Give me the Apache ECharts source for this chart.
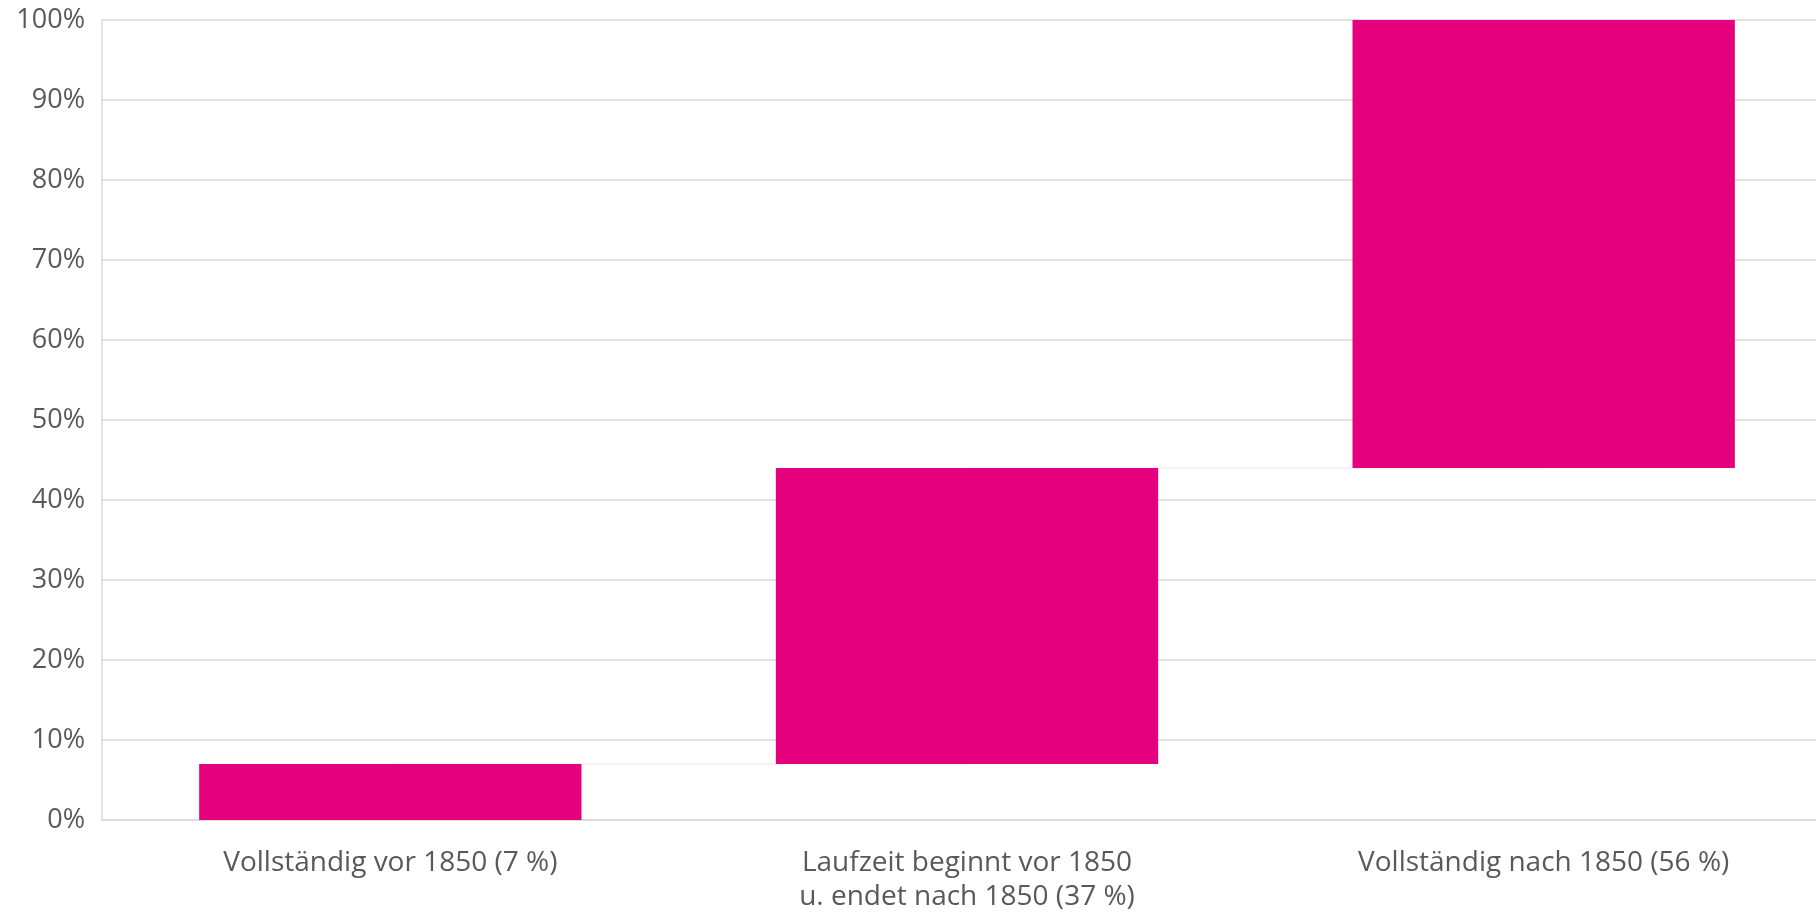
<!DOCTYPE html>
<html>
<head>
<meta charset="utf-8">
<script src="https://cdn.jsdelivr.net/npm/echarts@6/dist/echarts.min.js"></script>
<style>
html,body{margin:0;padding:0;background:#fff;overflow:hidden;}
#chart{width:1816px;height:916px;}
</style>
</head>
<body>
<div id="chart"></div>
<script>
const categories = [
  'Vollständig vor 1850 (7 %)',
  'Laufzeit beginnt vor 1850\nu. endet nach 1850 (37 %)',
  'Vollständig nach 1850 (56 %)'
];
const shares = [7, 37, 56];
const yTicks = [0, 10, 20, 30, 40, 50, 60, 70, 80, 90, 100];

const bases = [];
let acc = 0;
for (const v of shares) { bases.push(acc); acc += v; }

const connectors = [];
for (let i = 0; i < shares.length - 1; i++) {
  const lvl = bases[i] + shares[i];
  connectors.push([{ coord: [i, lvl] }, { coord: [i + 1, lvl] }]);
}

const chart = echarts.init(document.getElementById('chart'), null, { renderer: 'canvas' });
chart.setOption({
  backgroundColor: '#ffffff',
  animation: false,
  textStyle: { fontFamily: 'Open Sans' },
  grid: { left: 102, right: -16, top: 20, bottom: 96, containLabel: false, outerBoundsMode: 'none' },
  xAxis: {
    type: 'category',
    data: categories,
    axisLine: { show: true, lineStyle: { color: '#d9d9d9', width: 1.5 } },
    axisTick: { show: false },
    axisLabel: { color: '#595959', fontSize: 28, margin: 26, lineHeight: 34, fontFamily: 'Open Sans', interval: 0 }
  },
  yAxis: {
    type: 'value',
    min: yTicks[0],
    max: yTicks[yTicks.length - 1],
    interval: 10,
    axisLine: { show: true, lineStyle: { color: '#d9d9d9', width: 1.5 } },
    axisTick: { show: false },
    splitLine: { lineStyle: { color: '#d9d9d9', width: 1.5 } },
    axisLabel: { color: '#595959', fontSize: 27, margin: 17, fontFamily: 'Open Sans', formatter: '{value}%' }
  },
  series: [
    {
      type: 'bar',
      stack: 'w',
      data: bases,
      itemStyle: { color: 'rgba(0,0,0,0)' },
      barWidth: '66.3%',
      z: 2,
      silent: true,
      markLine: {
        z: 1,
        symbol: 'none',
        silent: true,
        label: { show: false },
        lineStyle: { color: '#f0f0f0', width: 1.5, type: 'solid' },
        data: connectors
      }
    },
    {
      type: 'bar',
      stack: 'w',
      data: shares,
      itemStyle: { color: '#e5007e' },
      barWidth: '66.3%',
      z: 3
    }
  ]
});
</script>
</body>
</html>
